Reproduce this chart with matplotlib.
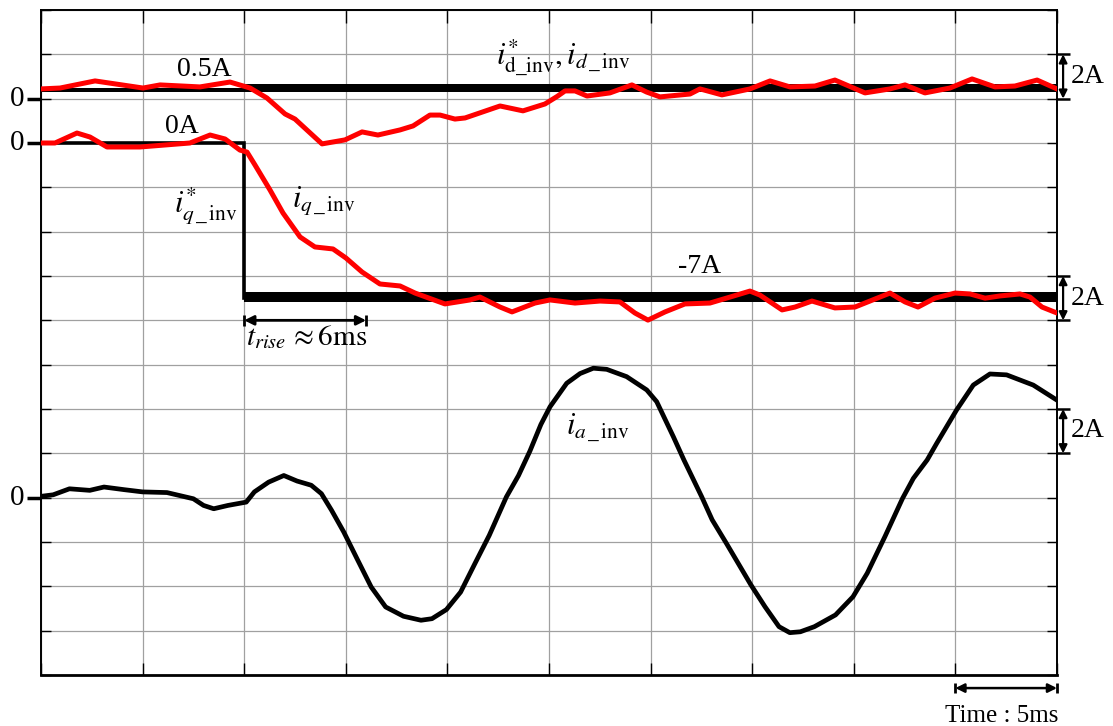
import matplotlib
matplotlib.use("Agg")
import matplotlib.pyplot as plt
import numpy as np

plt.rcParams['font.family'] = ['Liberation Serif', 'DejaVu Serif']
plt.rcParams['mathtext.fontset'] = 'stix'

# ---------------- data (time in ms, currents in A) ----------------
# d-axis reference (noisy black band)
d_ref_t = [0, 10, 10, 50]
d_ref_lo = [0.30, 0.30, 0.28, 0.28]
d_ref_hi = [0.50, 0.50, 0.68, 0.68]

# d-axis measured current (red)
id_t = [0, 0.94, 2.66, 5.02, 5.86, 7.82, 9.30, 10.29, 11.12, 12.01, 12.50, 13.83,
        14.96, 15.80, 16.58, 17.67, 18.31, 19.14, 19.64, 20.37, 20.87, 22.59, 23.72,
        24.80, 25.40, 25.79, 26.28, 26.87, 28.00, 29.08, 29.80, 30.46, 31.94, 32.43,
        33.51, 34.89, 35.88, 36.86, 38.09, 39.07, 40.55, 41.78, 42.52, 43.50, 44.73,
        45.82, 46.95, 47.93, 49.02, 50.0]
id_v = [0.44, 0.48, 0.80, 0.48, 0.62, 0.53, 0.75, 0.48, 0.03, -0.69, -0.92, -2.04,
        -1.86, -1.50, -1.64, -1.41, -1.23, -0.74, -0.74, -0.92, -0.87, -0.33, -0.55,
        -0.24, 0.10, 0.35, 0.35, 0.12, 0.26, 0.62, 0.30, 0.08, 0.21, 0.44,
        0.17, 0.44, 0.80, 0.53, 0.57, 0.84, 0.26, 0.44, 0.62, 0.26, 0.48,
        0.89, 0.53, 0.57, 0.84, 0.44]

# q-axis reference (step 0 A -> -7 A at 10 ms)
iq_ref_t = [0, 10, 10]
iq_ref_v = [0, 0, -7]
q_band_t = [10, 50]
q_band_lo = [-7.19, -7.19]
q_band_hi = [-6.74, -6.74]

# q-axis measured current (red)
iq_t = [0, 0.69, 1.77, 2.41, 3.25, 4.87, 7.33, 8.32, 9.06, 9.79, 10.14, 10.53, 11.27,
        11.91, 12.75, 13.48, 14.37, 15.01, 15.80, 16.68, 17.67, 18.41, 19.88, 21.11,
        21.60, 22.59, 23.18, 24.31, 25.05, 26.28, 27.51, 28.49, 29.23, 29.87, 30.71,
        31.69, 32.92, 33.91, 34.89, 35.38, 36.47, 37.11, 37.94, 39.07, 40.06, 41.04,
        41.78, 42.52, 43.16, 43.99, 44.98, 45.72, 46.46, 47.19, 48.18, 48.67, 49.26, 50.0]
iq_v = [0, 0, 0.45, 0.27, -0.18, -0.18, 0, 0.36, 0.18, -0.32, -0.41, -0.99, -2.12,
        -3.16, -4.24, -4.69, -4.78, -5.19, -5.82, -6.36, -6.45, -6.77, -7.26, -7.08,
        -6.95, -7.40, -7.62, -7.22, -7.08, -7.22, -7.13, -7.17, -7.67, -7.99, -7.62,
        -7.26, -7.22, -6.95, -6.68, -6.86, -7.53, -7.40, -7.13, -7.44, -7.40, -7.04,
        -6.77, -7.17, -7.40, -7.00, -6.77, -6.81, -7.00, -6.90, -6.81, -6.95, -7.40, -7.67]

# phase-a inverter current (black)
ia_t = [0, 0.6, 1.4, 2.4, 3.1, 4.1, 5.0, 6.2, 7.5, 8.0, 8.5, 9.2, 10.1, 10.5, 11.2,
        11.95, 12.6, 13.3, 13.8, 14.3, 14.9, 15.55, 16.25, 16.96, 17.84, 18.7, 19.24,
        19.95, 20.65, 21.35, 22.06, 22.9, 23.5, 24.06, 24.6, 25.05, 25.87, 26.53, 27.18,
        27.84, 28.82, 29.81, 30.30, 31.12, 31.64, 32.51, 33.03, 33.73, 34.94, 35.63,
        36.32, 36.85, 37.37, 38.06, 39.10, 39.96, 40.66, 41.53, 42.40, 42.93, 43.61,
        44.08, 45.06, 45.88, 46.70, 47.52, 48.83, 49.98]
ia_v = [0.06, 0.13, 0.40, 0.33, 0.48, 0.36, 0.26, 0.23, -0.05, -0.35, -0.50, -0.35,
        -0.20, 0.26, 0.70, 1.00, 0.75, 0.56, 0.18, -0.57, -1.55, -2.75, -4.03, -4.93,
        -5.35, -5.53, -5.46, -5.05, -4.26, -2.98, -1.70, 0.03, 1.00, 2.10, 3.30, 4.10,
        5.16, 5.60, 5.84, 5.79, 5.46, 4.86, 4.33, 2.75, 1.70, 0.05, -1.00, -2.06, -3.94,
        -4.92, -5.82, -6.09, -6.05, -5.82, -5.29, -4.47, -3.41, -1.76, -0.03, 0.87,
        1.70, 2.45, 3.96, 5.08, 5.58, 5.54, 5.08, 4.41]

# ---------------- layout constants ----------------
D_ZERO, Q_ZERO, A_ZERO = 26, 24, 8     # screen offsets of each channel (2 A / div)
RED = '#ff0000'

fig = plt.figure(figsize=(11.13, 7.26), dpi=100)
ax = fig.add_axes([41/1113, 51/726, (1057-41)/1113, (675-10)/726])
ax.set_xlim(0, 50)
ax.set_ylim(0, 30)
ax.set_xticks(np.arange(0, 51, 5))
ax.set_yticks(np.arange(0, 31, 2))
ax.set_xticklabels([])
ax.set_yticklabels([])
ax.grid(True, color='#a0a0a0', lw=0.9)
ax.set_axisbelow(True)
ax.tick_params(direction='in', top=True, right=True, length=7, width=1, color='k')
ax.tick_params(axis='x', length=9)
for s in ax.spines.values():
    s.set_linewidth(1.4)
ax.spines['bottom'].set_linewidth(2.0)

def sh(v, off):
    return np.asarray(v, dtype=float) + off

# d channel
ax.fill_between(d_ref_t, sh(d_ref_lo, D_ZERO), sh(d_ref_hi, D_ZERO), color='k', lw=0, zorder=3)
ax.plot(id_t, sh(id_v, D_ZERO), color=RED, lw=3.6, zorder=5, solid_joinstyle='round')

# q channel
ax.plot(iq_ref_t, sh(iq_ref_v, Q_ZERO), color='k', lw=2.6, zorder=3, solid_joinstyle='miter')
ax.fill_between(q_band_t, sh(q_band_lo, Q_ZERO), sh(q_band_hi, Q_ZERO), color='k', lw=0, zorder=3)
ax.plot(iq_t, sh(iq_v, Q_ZERO), color=RED, lw=3.6, zorder=5, solid_joinstyle='round')

# phase a
ax.plot(ia_t, sh(ia_v, A_ZERO), color='k', lw=3.4, zorder=4, solid_joinstyle='round')

# zero markers on the left
for z in (D_ZERO, Q_ZERO, A_ZERO):
    ax.plot([-0.69, 0], [z, z], color='k', lw=2.5, clip_on=False, solid_capstyle='butt')
    ax.text(-0.8, z, '0', ha='right', va='center', fontsize=21)

FS = 20
ax.text(8.02, 27.02, '0.5A', ha='center', va='baseline', fontsize=FS)
ax.text(6.94, 24.45, '0A', ha='center', va='baseline', fontsize=FS)
ax.text(6.55, 20.84, r'$i^{*}_{q\,\_\,\mathrm{inv}}$', ha='left', va='baseline', fontsize=FS + 2)
ax.text(12.35, 21.11, r'$i_{q\,\_\,\mathrm{inv}}$', ha='left', va='baseline', fontsize=FS + 2)
ax.text(22.40, 27.52, r'$i^{*}_{\mathrm{d\_inv}},i_{d\,\_\,\mathrm{inv}}$', ha='left', va='baseline', fontsize=FS + 2)
ax.text(31.35, 18.15, '-7A', ha='left', va='baseline', fontsize=FS)
ax.text(10.1, 14.89, r'$t_{rise}\,\approx \mathrm{6ms}$', ha='left', va='baseline', fontsize=FS + 1)
ax.text(25.85, 10.83, r'$i_{a\,\_\,\mathrm{inv}}$', ha='left', va='baseline', fontsize=FS + 2)

# t_rise arrow
ax.annotate('', xy=(16, 16), xytext=(10, 16),
            arrowprops=dict(arrowstyle='<|-|>', color='k', lw=2, mutation_scale=14,
                            shrinkA=0, shrinkB=0))
for xx in (10, 16):
    ax.plot([xx, xx], [15.75, 16.25], color='k', lw=2, solid_capstyle='butt', zorder=6)

# right-hand 2 A scale bars
for lo, hi, lab in ((26, 28, 26.71), (16, 18, 16.69), (10, 12, 10.75)):
    ax.annotate('', xy=(50.3, hi), xytext=(50.3, lo), annotation_clip=False,
                arrowprops=dict(arrowstyle='<|-|>', color='k', lw=1.6, mutation_scale=12,
                                shrinkA=0, shrinkB=0))
    for yy in (lo, hi):
        ax.plot([49.95, 50.65], [yy, yy], color='k', lw=1.8, clip_on=False, solid_capstyle='butt')
    ax.text(50.69, lab, '2A', ha='left', va='baseline', fontsize=FS)

# time scale bar
ax.annotate('', xy=(50, -0.59), xytext=(45, -0.59), annotation_clip=False,
            arrowprops=dict(arrowstyle='<|-|>', color='k', lw=1.8, mutation_scale=13,
                            shrinkA=0, shrinkB=0))
for xx in (45, 50):
    ax.plot([xx, xx], [-0.81, -0.37], color='k', lw=2, clip_on=False, solid_capstyle='butt')
ax.text(44.49, -2.1, 'Time : 5ms', ha='left', va='baseline', fontsize=18)

fig.savefig('out.png', dpi=100)
